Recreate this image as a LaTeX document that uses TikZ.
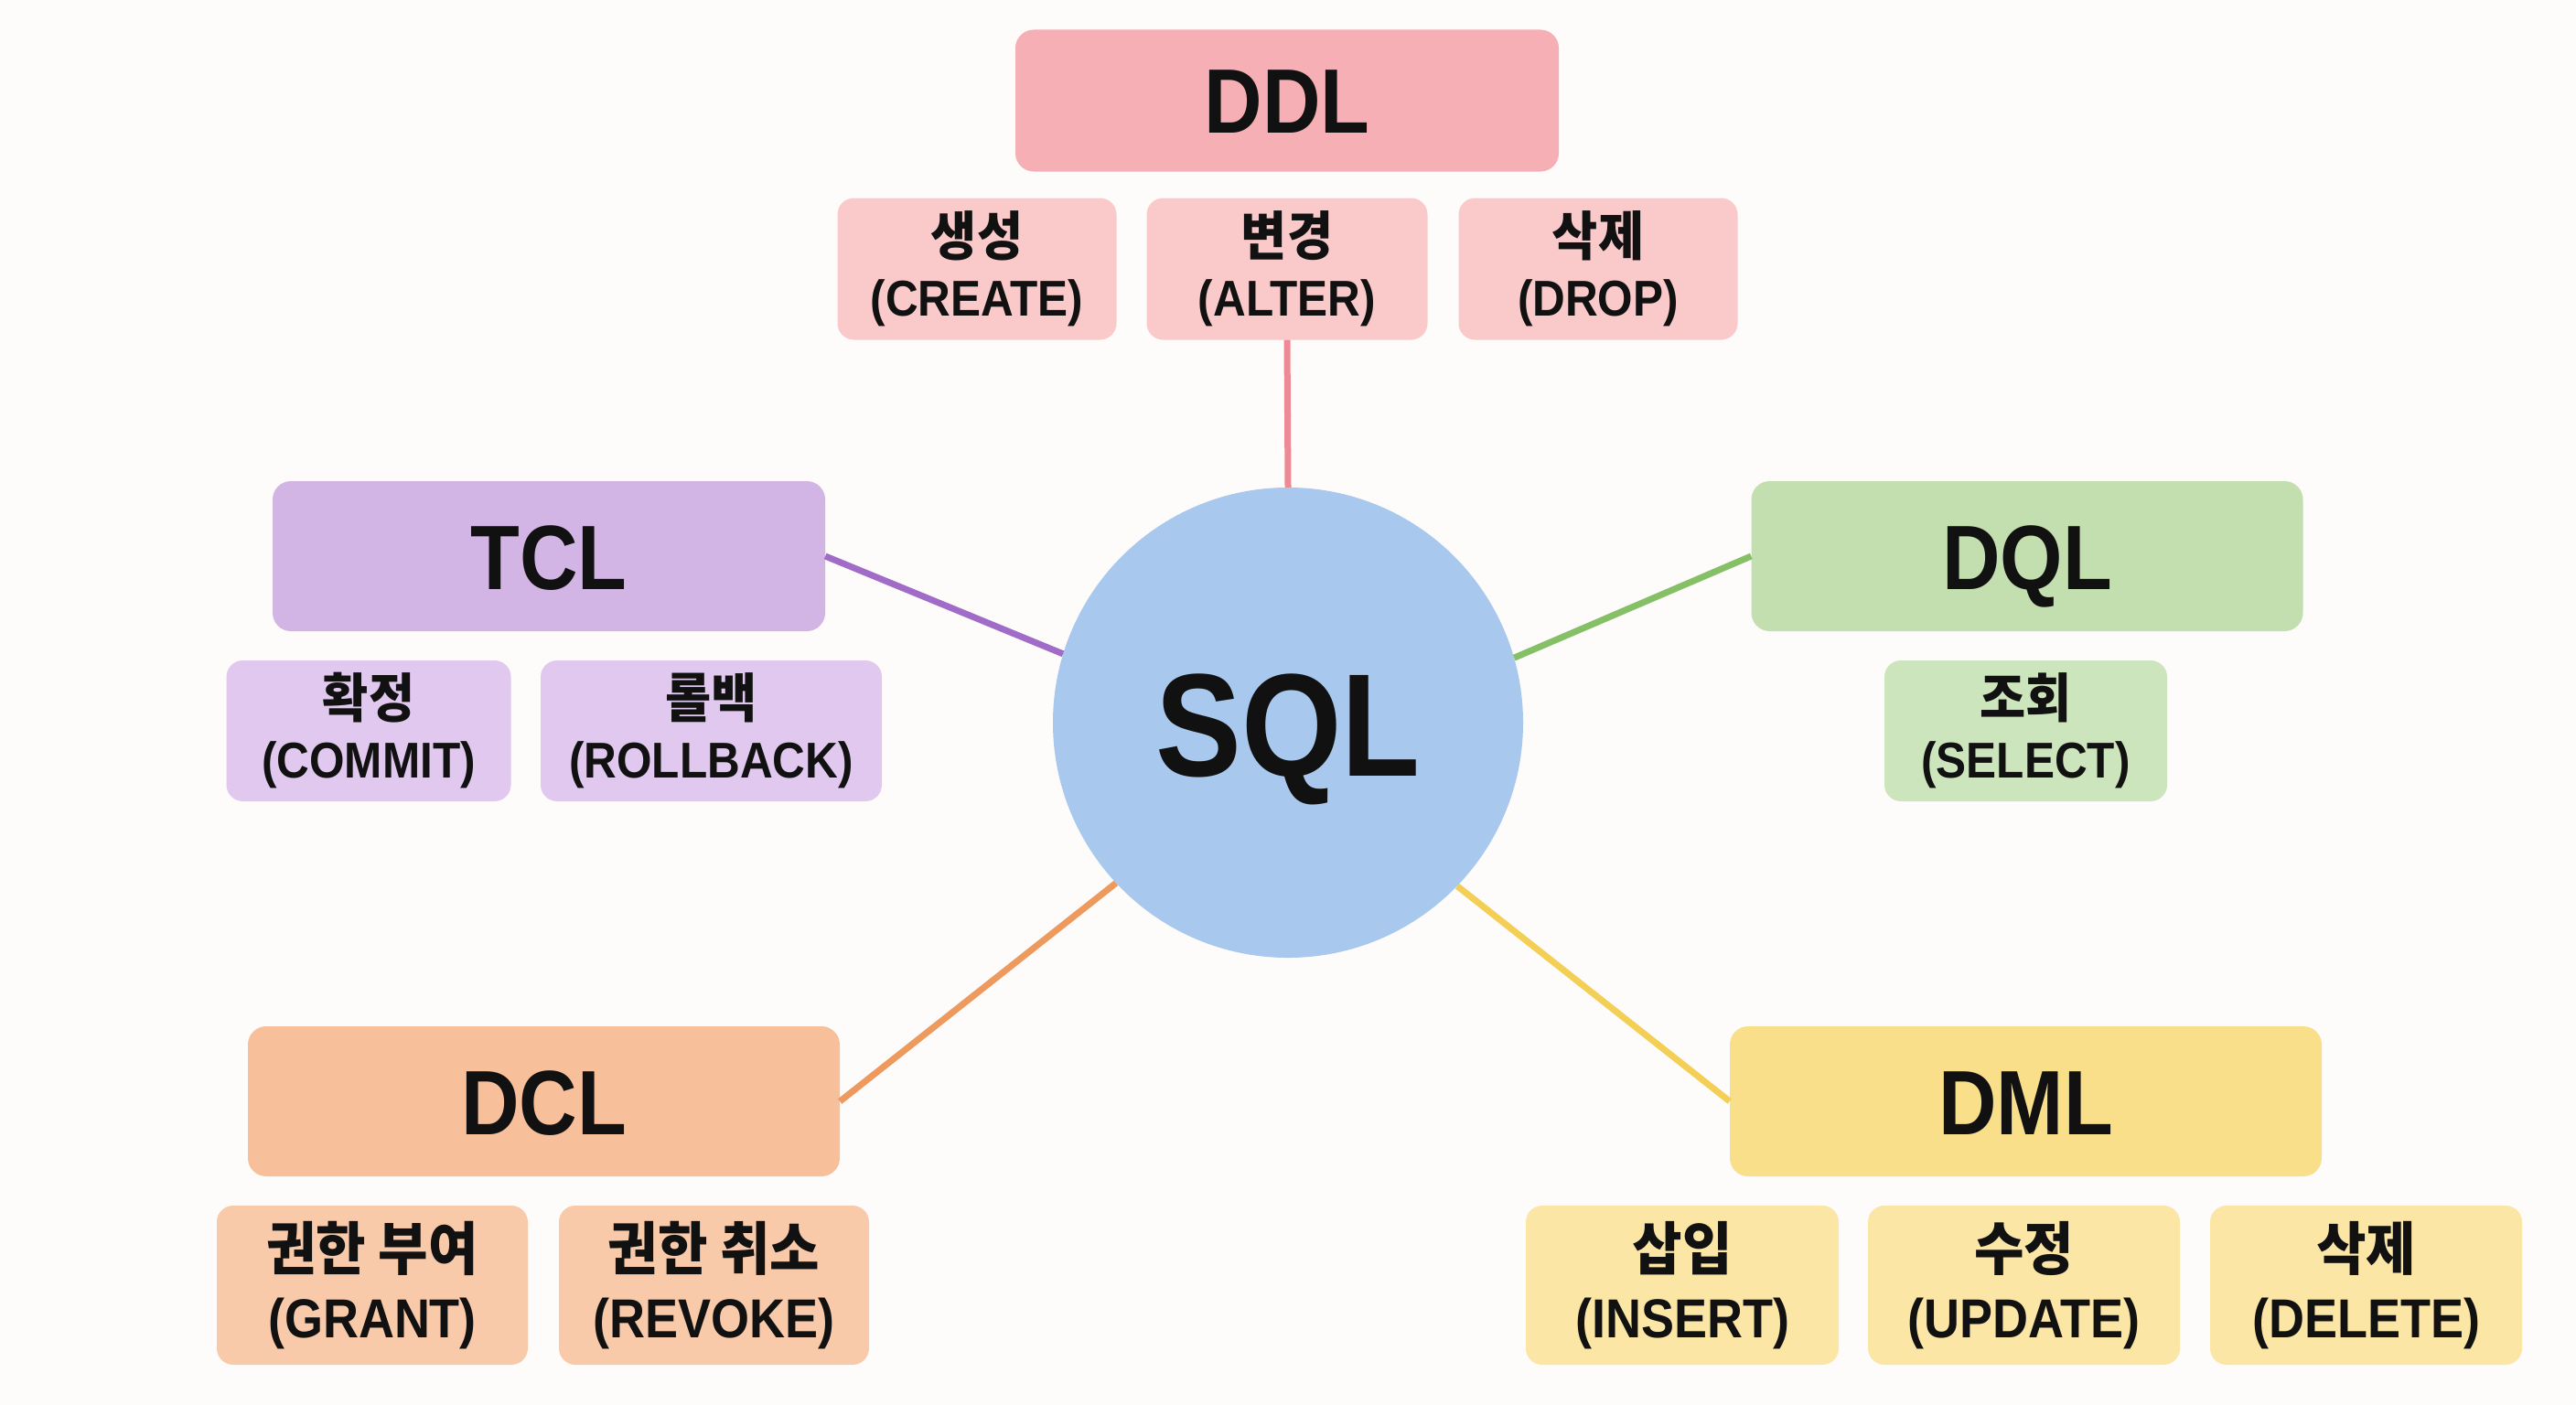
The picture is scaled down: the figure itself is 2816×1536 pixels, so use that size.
\documentclass[tikz,border=0pt]{standalone}
\usepackage{fontspec}
\setmainfont{Liberation Sans}[FakeStretch=0.88]
\newfontfamily\subf{Liberation Sans}[FakeStretch=0.9]
\newfontfamily\kr{Noto Sans CJK KR}[FakeStretch=0.94]
\definecolor{bgc}{HTML}{FDFCFA}
\definecolor{ddlh}{HTML}{F6AFB4}
\definecolor{ddlc}{HTML}{FACACB}
\definecolor{ddll}{HTML}{EE8A95}
\definecolor{tclh}{HTML}{D3B5E5}
\definecolor{tclc}{HTML}{E0C8EE}
\definecolor{tcll}{HTML}{A06CC8}
\definecolor{dqlh}{HTML}{C3DFAF}
\definecolor{dqlc}{HTML}{CDE5BC}
\definecolor{dqll}{HTML}{86C066}
\definecolor{dclh}{HTML}{F7C09B}
\definecolor{dclc}{HTML}{F9CAAA}
\definecolor{dcll}{HTML}{EE9A5E}
\definecolor{dmlh}{HTML}{F9DF8A}
\definecolor{dmlc}{HTML}{FBE6A6}
\definecolor{dmll}{HTML}{F4CF55}
\definecolor{sqlc}{HTML}{A8C8EE}
\definecolor{txt}{HTML}{111111}
\newcommand{\kline}[1]{{\kr\bfseries\fontsize{58}{66}\selectfont #1}}
\newcommand{\klinebig}[1]{{\kr\bfseries\fontsize{63}{74}\selectfont #1}}
\begin{document}
\begin{tikzpicture}[x=1pt,y=-1pt,
  hdr/.style={rounded corners=20pt, inner sep=0pt, text=txt,
    text height=72pt, text depth=0pt,
    font=\fontsize{100}{100}\selectfont\bfseries},
  sub/.style={rounded corners=18pt, inner sep=0pt, text=txt, align=center,
    font=\subf\bfseries\fontsize{55}{66}\selectfont},
  subbig/.style={sub, font=\subf\bfseries\fontsize{60}{74}\selectfont},
  link/.style={line width=7pt}
]
\fill[bgc] (0,0) rectangle (2816,1536);
\useasboundingbox (0,0) rectangle (2816,1536);

% center
\node[circle, fill=sqlc, minimum size=514pt, inner sep=0pt, text=txt,
  text height=116pt, text depth=0pt,
  font=\fontsize{160}{160}\selectfont\bfseries] (sql) at (1408,790) {SQL};

% DDL
\node[hdr, fill=ddlh, minimum width=594pt, minimum height=155pt] (ddl) at (1407,110) {DDL};
\node[sub, fill=ddlc, minimum width=305pt, minimum height=155pt] (create) at (1068,294) {\kline{생성}\\(CREATE)};
\node[sub, fill=ddlc, minimum width=307pt, minimum height=155pt] (alter) at (1407,294) {\kline{변경}\\(ALTER)};
\node[sub, fill=ddlc, minimum width=305pt, minimum height=155pt] (drop) at (1747,294) {\kline{삭제}\\(DROP)};

% TCL
\node[hdr, fill=tclh, minimum width=604pt, minimum height=164pt] (tcl) at (600,608) {TCL};
\node[sub, fill=tclc, minimum width=311pt, minimum height=154pt] (commit) at (403,799) {\kline{확정}\\(COMMIT)};
\node[sub, fill=tclc, minimum width=373pt, minimum height=154pt] (rollback) at (777.5,799) {\kline{롤백}\\(ROLLBACK)};

% DQL
\node[hdr, fill=dqlh, minimum width=603pt, minimum height=164pt] (dql) at (2216,608) {DQL};
\node[sub, fill=dqlc, minimum width=309pt, minimum height=154pt] (select) at (2214.5,799) {\kline{조회}\\(SELECT)};

% DCL
\node[hdr, fill=dclh, minimum width=647pt, minimum height=164pt] (dcl) at (594.5,1204) {DCL};
\node[subbig, fill=dclc, minimum width=340pt, minimum height=174pt] (grant) at (407,1405) {\klinebig{권한 부여}\\(GRANT)};
\node[subbig, fill=dclc, minimum width=339pt, minimum height=174pt] (revoke) at (780.5,1405) {\klinebig{권한 취소}\\(REVOKE)};

% DML
\node[hdr, fill=dmlh, minimum width=647pt, minimum height=164pt] (dml) at (2214.5,1204) {DML};
\node[subbig, fill=dmlc, minimum width=342pt, minimum height=174pt] (insert) at (1839,1405) {\klinebig{삽입}\\(INSERT)};
\node[subbig, fill=dmlc, minimum width=341pt, minimum height=174pt] (update) at (2212.5,1405) {\klinebig{수정}\\(UPDATE)};
\node[subbig, fill=dmlc, minimum width=341pt, minimum height=174pt] (delete) at (2586.5,1405) {\klinebig{삭제}\\(DELETE)};

% connectors
\draw[link, ddll] (alter.south) -- (sql.north);
\draw[link, tcll] (tcl.east) -- (sql.163.8);
\draw[link, dqll] (dql.west) -- (sql.16.2);
\draw[link, dcll] (dcl.east) -- (sql.223.6);
\draw[link, dmll] (dml.west) -- (sql.316.7);
\end{tikzpicture}
\end{document}
